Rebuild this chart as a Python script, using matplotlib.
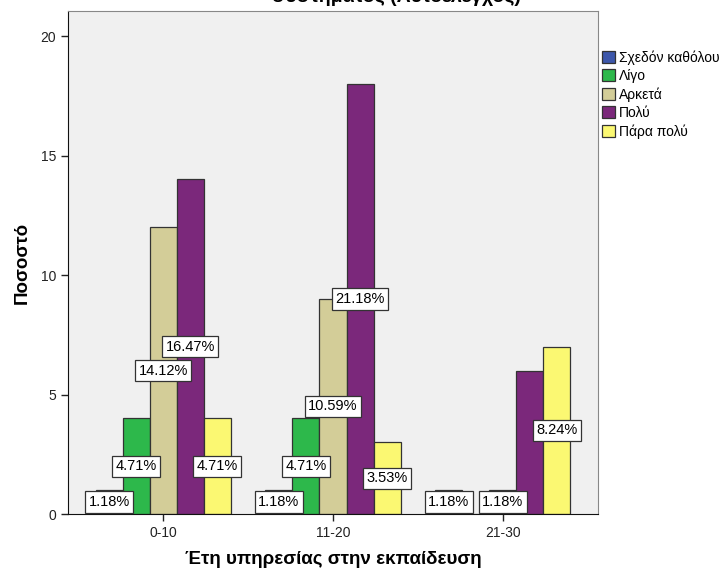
import numpy as np
import matplotlib.pyplot as plt

plt.rcParams['font.family'] = ['Liberation Sans', 'DejaVu Sans']

groups = ['0-10', '11-20', '21-30']
series = ['Σχεδόν καθόλου', 'Λίγο', 'Αρκετά', 'Πολύ', 'Πάρα πολύ']
counts = [
    [1, 1, 1],      # Σχεδόν καθόλου
    [4, 4, 0],      # Λίγο
    [12, 9, 1],     # Αρκετά
    [14, 18, 6],    # Πολύ
    [4, 3, 7],      # Πάρα πολύ
]
labels = [
    ['1.18%', '1.18%', '1.18%'],
    ['4.71%', '4.71%', None],
    ['14.12%', '10.59%', '1.18%'],
    ['16.47%', '21.18%', None],
    ['4.71%', '3.53%', '8.24%'],
]
colors = ['#3d57ab', '#2db84b', '#d3cd98', '#7b287b', '#fbf872']

fig = plt.figure(figsize=(7.22, 5.71), dpi=100)
ax = fig.add_axes([68 / 722, 57 / 571, 530 / 722, 503 / 571])
ax.set_facecolor('#f0f0f0')

x = np.arange(len(groups))
w = 0.159
for i, (name, vals) in enumerate(zip(series, counts)):
    pos = x + (i - 2) * w
    ax.bar(pos, vals, w, color=colors[i], edgecolor='#333333', linewidth=0.9,
           label=name, zorder=2)
    for p, v, lab in zip(pos, vals, labels[i]):
        if lab is None:
            continue
        ax.text(p, v / 2, lab, ha='center', va='center', fontsize=10.5, zorder=3,
                bbox=dict(boxstyle='square,pad=0.25', fc='white', ec='#333333', lw=0.9))

ax.set_xlim(-0.56, 2.56)
ax.set_ylim(0, 21.05)
ax.set_xticks(x)
ax.set_xticklabels(groups, fontsize=10)
ax.set_yticks([0, 5, 10, 15, 20])
ax.tick_params(axis='both', direction='out', length=5, width=1, labelsize=10, colors='#222222')
for s in ['top', 'right']:
    ax.spines[s].set_color('#888888')
for s in ['left', 'bottom']:
    ax.spines[s].set_color('#111111')

ax.set_ylabel('Ποσοστό', fontsize=13.5, fontweight='bold', labelpad=7)
ax.set_xlabel('Έτη υπηρεσίας στην εκπαίδευση', fontsize=13.5, fontweight='bold', labelpad=8)

fig.text(396 / 722, 1.0 + 3 / 571, 'συστήματος (Αυτοέλεγχος)', ha='center', va='center',
         fontsize=14, fontweight='bold')

leg = ax.legend(loc='upper left', bbox_to_anchor=(1.0, 0.93), frameon=False, fontsize=10,
                handlelength=0.9, handleheight=0.9, handletextpad=0.3, labelspacing=0.3,
                borderaxespad=0.2, borderpad=0.1)

fig.savefig('out.png', dpi=100)
